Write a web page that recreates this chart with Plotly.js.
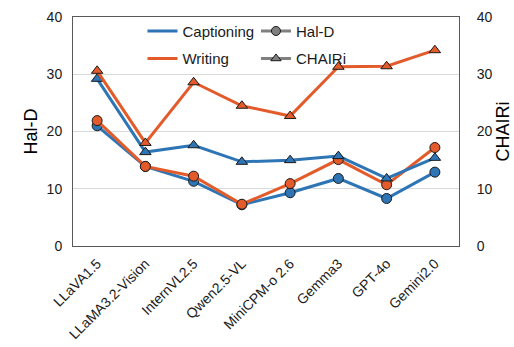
<!DOCTYPE html>
<html>
<head>
<meta charset="utf-8">
<script src="https://cdn.plot.ly/plotly-3.0.1.min.js"></script>
<style>
  html, body { margin: 0; padding: 0; background: #fff; }
  #chart { width: 514px; height: 347px; }
</style>
</head>
<body>
<div id="chart"></div>
<script>
/* Hal-D (left axis) and CHAIRi (right axis) for Captioning vs Writing */

const models = ['LLaVA1.5', 'LLaMA3.2-Vision', 'InternVL2.5', 'Qwen2.5-VL', 'MiniCPM-o 2.6', 'Gemma3', 'GPT-4o', 'Gemini2.0'];

const captionHalD   = [21.0, 13.9, 11.3, 7.2, 9.3, 11.8, 8.3, 12.9];
const writingHalD   = [21.9, 13.9, 12.2, 7.3, 10.9, 15.1, 10.7, 17.2];
const captionChairi = [29.2, 16.4, 17.6, 14.7, 15.0, 15.7, 11.8, 15.4];
const writingChairi = [30.6, 18.0, 28.6, 24.5, 22.7, 31.3, 31.4, 34.2];

const BLUE = '#2E75B6';
const ORANGE = '#E35B2A';
const GRAY = '#808080';
const FONT = 'Liberation Sans, Arial, sans-serif';

const outline = { color: '#1a1a1a', width: 1 };

const traces = [
  { x: models, y: captionHalD, yaxis: 'y', mode: 'lines+markers', showlegend: false,
    line: { color: BLUE, width: 3 }, marker: { symbol: 'circle', size: 10, color: BLUE, line: outline } },
  { x: models, y: writingHalD, yaxis: 'y', mode: 'lines+markers', showlegend: false,
    line: { color: ORANGE, width: 3 }, marker: { symbol: 'circle', size: 10, color: ORANGE, line: outline } },
  { x: models, y: captionChairi, yaxis: 'y2', mode: 'lines+markers', showlegend: false,
    line: { color: BLUE, width: 3 }, marker: { symbol: 'triangle-up', size: 10, color: BLUE, line: outline } },
  { x: models, y: writingChairi, yaxis: 'y2', mode: 'lines+markers', showlegend: false,
    line: { color: ORANGE, width: 3 }, marker: { symbol: 'triangle-up', size: 10, color: ORANGE, line: outline } },

  // legend keys only (no visible data)
  { x: [models[0]], y: [null], name: 'Captioning', mode: 'lines', showlegend: true,
    legend: 'legend', legendgroup: 'a', line: { color: BLUE, width: 3 } },
  { x: [models[0]], y: [null], name: 'Writing', mode: 'lines', showlegend: true,
    legend: 'legend', legendgroup: 'b', line: { color: ORANGE, width: 3 } },
  { x: [models[0]], y: [null], name: 'Hal-D', mode: 'lines+markers', showlegend: true,
    legend: 'legend2', legendgroup: 'c',
    line: { color: GRAY, width: 3 }, marker: { symbol: 'circle', size: 9, color: GRAY, line: outline } },
  { x: [models[0]], y: [null], name: 'CHAIRi', mode: 'lines+markers', showlegend: true,
    legend: 'legend2', legendgroup: 'd',
    line: { color: GRAY, width: 3 }, marker: { symbol: 'triangle-up', size: 9, color: GRAY, line: outline } }
];

const legendBase = {
  orientation: 'v', xanchor: 'left', yanchor: 'top', y: 1.01,
  bgcolor: 'rgba(255,255,255,0)', borderwidth: 0, tracegroupgap: 5,
  font: { family: FONT, size: 15, color: '#1a1a1a' }
};

const layout = {
  width: 514, height: 347,
  showlegend: true,
  margin: { l: 73, r: 55, t: 17, b: 101 },
  paper_bgcolor: '#fff', plot_bgcolor: '#fff',
  font: { family: FONT, size: 14, color: '#333' },
  xaxis: {
    type: 'category', range: [-0.5, 7.5], tickangle: -45, ticklabelstandoff: 3,
    showgrid: false, showline: true, mirror: true, linecolor: '#595959', linewidth: 1,
    ticks: '', tickfont: { family: FONT, size: 14, color: '#1a1a1a' }
  },
  yaxis: {
    range: [0, 40], dtick: 10, showgrid: true, gridcolor: '#d9d9d9', zeroline: false,
    showline: true, linecolor: '#595959', linewidth: 1, ticks: '', ticklabelstandoff: 7,
    tickfont: { family: FONT, size: 14, color: '#1a1a1a' },
    title: { text: 'Hal-D', font: { family: FONT, size: 18, color: '#000' }, standoff: 4 }
  },
  yaxis2: {
    overlaying: 'y', side: 'right', range: [0, 40], dtick: 10, showgrid: false, zeroline: false,
    showline: true, linecolor: '#595959', linewidth: 1, ticks: '', ticklabelstandoff: 14,
    tickfont: { family: FONT, size: 14, color: '#1a1a1a' },
    title: { text: 'CHAIRi', font: { family: FONT, size: 18, color: '#000' }, standoff: 2 }
  },
  legend: Object.assign({}, legendBase, { x: 0.18 }),
  legend2: Object.assign({}, legendBase, { x: 0.474 })
};

Plotly.newPlot('chart', traces, layout, { displayModeBar: false, staticPlot: true });
</script>
</body>
</html>
